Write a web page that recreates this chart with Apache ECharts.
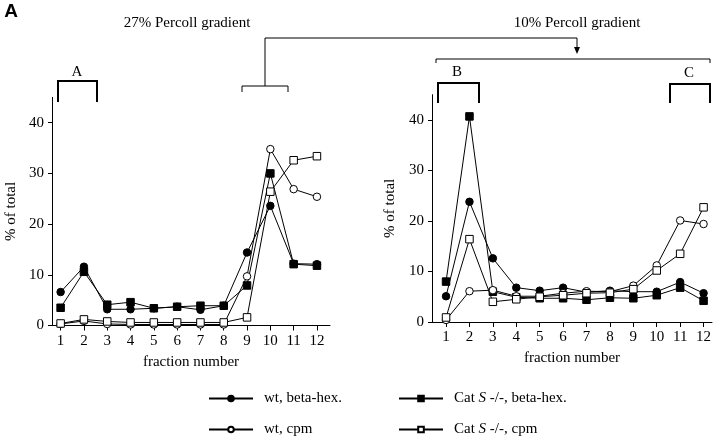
<!DOCTYPE html>
<html>
<head>
<meta charset="utf-8">
<script src="https://cdn.jsdelivr.net/npm/echarts@6/dist/echarts.min.js"></script>
<style>
html,body{margin:0;padding:0;background:#fff;}
#chart{width:720px;height:443px;}
</style>
</head>
<body>
<div id="chart"></div>
<script>
// ---- data ----
const fractions = [1, 2, 3, 4, 5, 6, 7, 8, 9, 10, 11, 12];
const yTicks = [0, 10, 20, 30, 40];

// 27% Percoll gradient (left panel)
const leftWtBeta  = [6.6, 11.6, 3.2, 3.2, 3.4, 3.7, 3.1, 3.9, 14.4, 23.6, 12.2, 12.1];
const leftCatBeta = [3.5, 10.6, 4.1, 4.6, 3.4, 3.7, 3.9, 3.9, 7.9, 30.0, 12.1, 11.8];
const leftWtCpm   = [0.3, 0.9, 0.3, 0.2, 0.2, 0.2, 0.2, 0.2, 9.7, 34.8, 26.9, 25.4];
const leftCatCpm  = [0.4, 1.2, 0.8, 0.6, 0.6, 0.6, 0.6, 0.6, 1.6, 26.4, 32.6, 33.4];

// 10% Percoll gradient (right panel)
const rightWtBeta  = [5.1, 23.8, 12.6, 6.8, 6.2, 6.8, 5.9, 6.2, 6.0, 6.0, 7.9, 5.7];
const rightCatBeta = [8.0, 40.7, 6.0, 4.9, 4.7, 4.7, 4.4, 4.8, 4.7, 5.3, 6.8, 4.2];
const rightWtCpm   = [0.4, 6.1, 6.3, 5.1, 5.1, 5.7, 6.1, 6.0, 7.2, 11.2, 20.1, 19.4];
const rightCatCpm  = [0.9, 16.4, 4.0, 4.5, 5.0, 5.3, 5.7, 5.8, 6.5, 10.2, 13.5, 22.7];

const seriesNames = ['wt, beta-hex.', 'wt, cpm', 'Cat S -/-, beta-hex.', 'Cat S -/-, cpm'];

// ---- build ----
const SERIF = 'Liberation Serif';
const pairs = arr => fractions.map((f, i) => [f, arr[i]]);

const styles = {
  'wt, beta-hex.':       { symbol: 'circle', color: '#000' },
  'wt, cpm':             { symbol: 'circle', color: '#fff' },
  'Cat S -/-, beta-hex.':{ symbol: 'rect',   color: '#000' },
  'Cat S -/-, cpm':      { symbol: 'rect',   color: '#fff' }
};

function mkSeries(name, arr, idx) {
  const s = styles[name];
  return {
    name: name,
    type: 'line',
    xAxisIndex: idx,
    yAxisIndex: idx,
    data: pairs(arr),
    symbol: s.symbol,
    symbolSize: 7.5,
    showAllSymbol: true,
    lineStyle: { color: '#000', width: 1 },
    itemStyle: { color: s.color, borderColor: '#000', borderWidth: 1 },
    emphasis: { disabled: true },
    z: s.color === '#fff' ? 3 : 2
  };
}

function xAxis(idx, min, max) {
  return {
    type: 'value', gridIndex: idx, min: min, max: max,
    name: 'fraction number', nameLocation: 'middle', nameGap: 29,
    nameTextStyle: { fontFamily: SERIF, fontSize: 15, color: '#000' },
    axisLine: { show: true, onZero: false, lineStyle: { color: '#000', width: 1 } },
    axisTick: { show: true, length: 5, customValues: fractions, lineStyle: { color: '#000' } },
    axisLabel: { customValues: fractions, margin: 8, fontFamily: SERIF, fontSize: 15, color: '#000' },
    splitLine: { show: false }
  };
}
function yAxis(idx, gap) {
  return {
    type: 'value', gridIndex: idx, min: 0, max: 45,
    name: '% of total', nameLocation: 'middle', nameGap: gap,
    nameTextStyle: { fontFamily: SERIF, fontSize: 15, color: '#000' },
    axisLine: { show: true, lineStyle: { color: '#000', width: 1 } },
    axisTick: { show: true, length: 4, customValues: yTicks, lineStyle: { color: '#000' } },
    axisLabel: { customValues: yTicks, margin: 8, fontFamily: SERIF, fontSize: 15, color: '#000' },
    splitLine: { show: false }
  };
}

const legendText = {
  fontFamily: SERIF, fontSize: 15, color: '#000', padding: [0, 0, 0, 6],
  rich: {
    n: { fontFamily: SERIF, fontSize: 15, color: '#000' },
    i: { fontFamily: SERIF, fontSize: 15, color: '#000', fontStyle: 'italic' }
  }
};
const legendFmt = name => name.startsWith('Cat S')
  ? '{n|Cat }{i|S}{n|' + name.slice(5) + '}'
  : '{n|' + name + '}';

function bracket(pts, w) {
  return { type: 'polyline', shape: { points: pts }, style: { stroke: '#000', lineWidth: w, fill: null }, silent: true };
}
function label(text, x, y, font) {
  return { type: 'text', x: x, y: y, style: { text: text, font: font, fill: '#000', align: 'center', verticalAlign: 'middle' }, silent: true };
}

const legendBase = {
  orient: 'vertical', top: 391, padding: 0, height: 60,
  itemWidth: 44, itemHeight: 7, itemGap: 16,
  textStyle: legendText, formatter: legendFmt, selectedMode: false
};

const option = {
  animation: false,
  backgroundColor: '#fff',
  grid: [
    { left: 52, top: 97.4, width: 278, height: 228.1 },
    { left: 432, top: 94.7, width: 280, height: 227.3 }
  ],
  xAxis: [xAxis(0, 0.63, 12.56), xAxis(1, 0.40, 12.36)],
  yAxis: [yAxis(0, 33), yAxis(1, 34)],
  legend: [
    Object.assign({ data: seriesNames.slice(0, 2), left: 208 }, legendBase),
    Object.assign({ data: seriesNames.slice(2, 4), left: 398 }, legendBase)
  ],
  series: [
    mkSeries(seriesNames[0], leftWtBeta, 0),
    mkSeries(seriesNames[2], leftCatBeta, 0),
    mkSeries(seriesNames[1], leftWtCpm, 0),
    mkSeries(seriesNames[3], leftCatCpm, 0),
    mkSeries(seriesNames[0], rightWtBeta, 1),
    mkSeries(seriesNames[2], rightCatBeta, 1),
    mkSeries(seriesNames[1], rightWtCpm, 1),
    mkSeries(seriesNames[3], rightCatCpm, 1)
  ],
  graphic: [
    label('A', 11, 12, 'bold 19px "Liberation Sans"'),
    label('27% Percoll gradient', 187, 23, '15px "Liberation Serif"'),
    label('10% Percoll gradient', 577, 23, '15px "Liberation Serif"'),
    bracket([[265, 86], [265, 38], [577, 38], [577, 48]], 1),
    { type: 'polygon', shape: { points: [[574, 47], [580, 47], [577, 54]] }, style: { fill: '#000' }, silent: true },
    bracket([[242, 92], [242, 86], [288, 86], [288, 92]], 1),
    bracket([[436, 63], [436, 59], [710, 59], [710, 63]], 1),
    bracket([[58, 102], [58, 81], [97, 81], [97, 102]], 2),
    bracket([[438, 103], [438, 83], [479, 83], [479, 103]], 2),
    bracket([[670, 103], [670, 84], [710, 84], [710, 103]], 2),
    label('A', 77, 72, '15px "Liberation Serif"'),
    label('B', 457, 72, '15px "Liberation Serif"'),
    label('C', 689, 73, '15px "Liberation Serif"')
  ]
};

const chart = echarts.init(document.getElementById('chart'), null, { renderer: 'canvas' });
chart.setOption(option);
</script>
</body>
</html>
